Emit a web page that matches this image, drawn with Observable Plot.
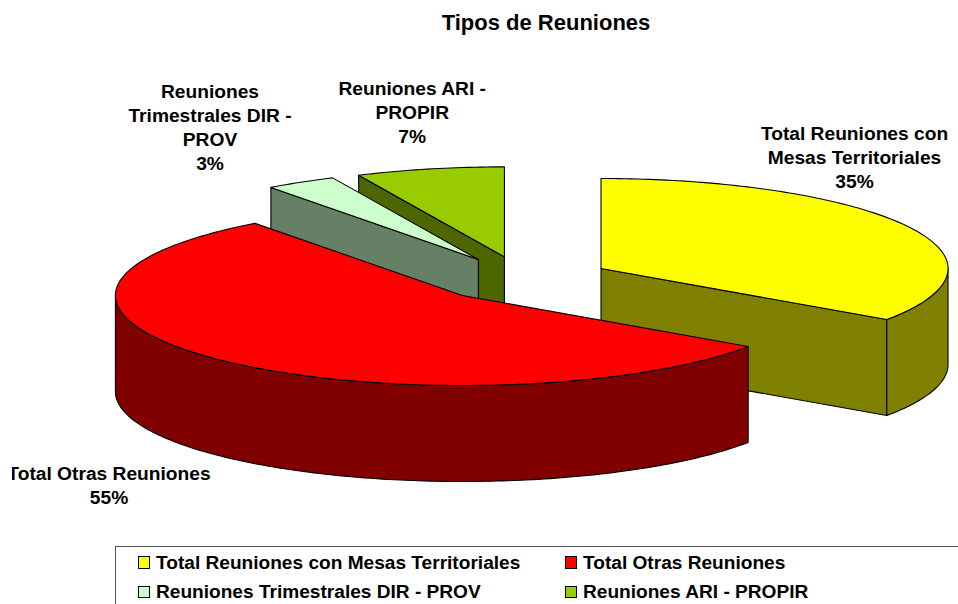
<!DOCTYPE html>
<html lang="es">
<head>
<meta charset="utf-8">
<title>Tipos de Reuniones</title>
<script src="https://cdn.jsdelivr.net/npm/d3@7"></script>
<script src="https://cdn.jsdelivr.net/npm/@observablehq/plot@0.6"></script>
<style>
  html, body { margin: 0; padding: 0; width: 958px; height: 604px; overflow: hidden; background: #fff; }
  body { position: relative; font-family: "Liberation Sans", Arial, sans-serif; font-weight: bold; color: #000; }
  #title { position: absolute; left: 0; top: 12px; width: 1092px; text-align: center; font-size: 22px; line-height: 22px; }
  #chart { position: absolute; left: 12px; top: 46px; width: 946px; height: 499px; overflow: hidden; }
  #chart svg { overflow: hidden; background: none; }
  #legend { position: absolute; left: 115px; top: 546px; width: 900px; height: 80px; border: 1.5px solid #555; box-sizing: border-box; font-size: 19.1px; }
  .entry { position: absolute; white-space: nowrap; line-height: 18px; }
  .swatch { position: absolute; left: -18.5px; top: 2.5px; width: 10.5px; height: 10.5px; border: 1.2px solid #000; }
</style>
</head>
<body>
<div id="title"></div>
<div id="chart"></div>
<div id="legend"></div>
<script>
const chartTitle = "Tipos de Reuniones";
const categories = [
  "Total Reuniones con Mesas Territoriales",
  "Total Otras Reuniones",
  "Reuniones Trimestrales DIR - PROV",
  "Reuniones ARI - PROPIR"
];
const shares = [34.6, 55.2, 3.3, 6.9];
const percentLabels = ["35%", "55%", "3%", "7%"];
const labelNames = [
  "Total Reuniones con\nMesas Territoriales",
  "Total Otras Reuniones",
  "Reuniones\nTrimestrales DIR -\nPROV",
  "Reuniones ARI -\nPROPIR"
];
const topColors = ["#FFFF00", "#FF0000", "#CCFFCC", "#99CC00"];
const sideColors = ["#808000", "#800000", "#668066", "#4D6600"];

// Pie projection
const pie = { cx: 522.8, cy: 278.6, rx: 347, ry: 90, depth: 96, explode: 0.253 };
// Label block centres
const labelTarget = [[854, 155.7], [108.5, 483.9], [209.5, 125.8], [411.7, 110.9]];

const rad = d => d * Math.PI / 180;
let acc = 0;
const slices = shares.map((v, i) => {
  const a0 = acc * 3.6; acc += v; const a1 = acc * 3.6; const mid = (a0 + a1) / 2;
  const px = pie.cx + pie.explode * pie.rx * Math.sin(rad(mid));
  const py = pie.cy - pie.explode * pie.ry * Math.cos(rad(mid));
  return { i, a0, a1, mid, px, py };
});
const at = (s, a, z = 0) => [s.px + pie.rx * Math.sin(rad(a)), s.py - pie.ry * Math.cos(rad(a)) + z];
const arc = (s, a0, a1, z = 0) => {
  const n = Math.max(2, Math.ceil(Math.abs(a1 - a0)));
  return d3.range(n + 1).map(k => at(s, a0 + (a1 - a0) * k / n, z));
};
const apex = (s, z = 0) => [s.px, s.py + z];

const poly = (pts, fill) => Plot.line(pts, {
  x: d => d[0], y: d => d[1], fill, stroke: "#000", strokeWidth: 1.1, curve: "linear-closed"
});
const topFace = s => poly([apex(s), ...arc(s, s.a0, s.a1)], topColors[s.i]);
const cutFace = (s, a) => poly([apex(s), at(s, a), at(s, a, pie.depth), apex(s, pie.depth)], sideColors[s.i]);
const rimFace = (s, a0, a1) => poly([...arc(s, a0, a1), ...arc(s, a1, a0, pie.depth)], sideColors[s.i]);

const [yellow, red, pale, olive] = slices;

const labels = slices.map(s => ({
  x: labelTarget[s.i][0],
  y: labelTarget[s.i][1],
  text: labelNames[s.i] + "\n" + percentLabels[s.i]
}));

const chart = Plot.plot({
  width: 946, height: 499,
  margin: 0,
  x: { domain: [12, 958], axis: null },
  y: { domain: [545, 46], axis: null },
  marks: [
    cutFace(olive, olive.a0), topFace(olive),
    cutFace(pale, pale.a0), topFace(pale),
    cutFace(yellow, yellow.a1), rimFace(yellow, yellow.a1, 90), topFace(yellow),
    rimFace(red, 270, red.a0), topFace(red),
    Plot.text(labels, {
      x: "x", y: "y", text: "text", textAnchor: "middle", lineAnchor: "middle",
      lineHeight: 1.25, fontSize: 19.2, fontWeight: "bold",
      fontFamily: "Liberation Sans, Arial, sans-serif", fill: "#000"
    })
  ]
});
document.getElementById("chart").append(chart);
document.getElementById("title").textContent = chartTitle;

// Legend: two columns, two rows
const legendBox = d3.select("#legend");
const legendSpots = [[40, 6.8], [467, 6.8], [40, 36.3], [467, 36.3]];
categories.forEach((c, i) => {
  const e = legendBox.append("div").attr("class", "entry")
    .style("left", legendSpots[i][0] + "px").style("top", legendSpots[i][1] + "px").text(c);
  e.append("span").attr("class", "swatch").style("background", topColors[i]);
});
</script>
</body>
</html>
